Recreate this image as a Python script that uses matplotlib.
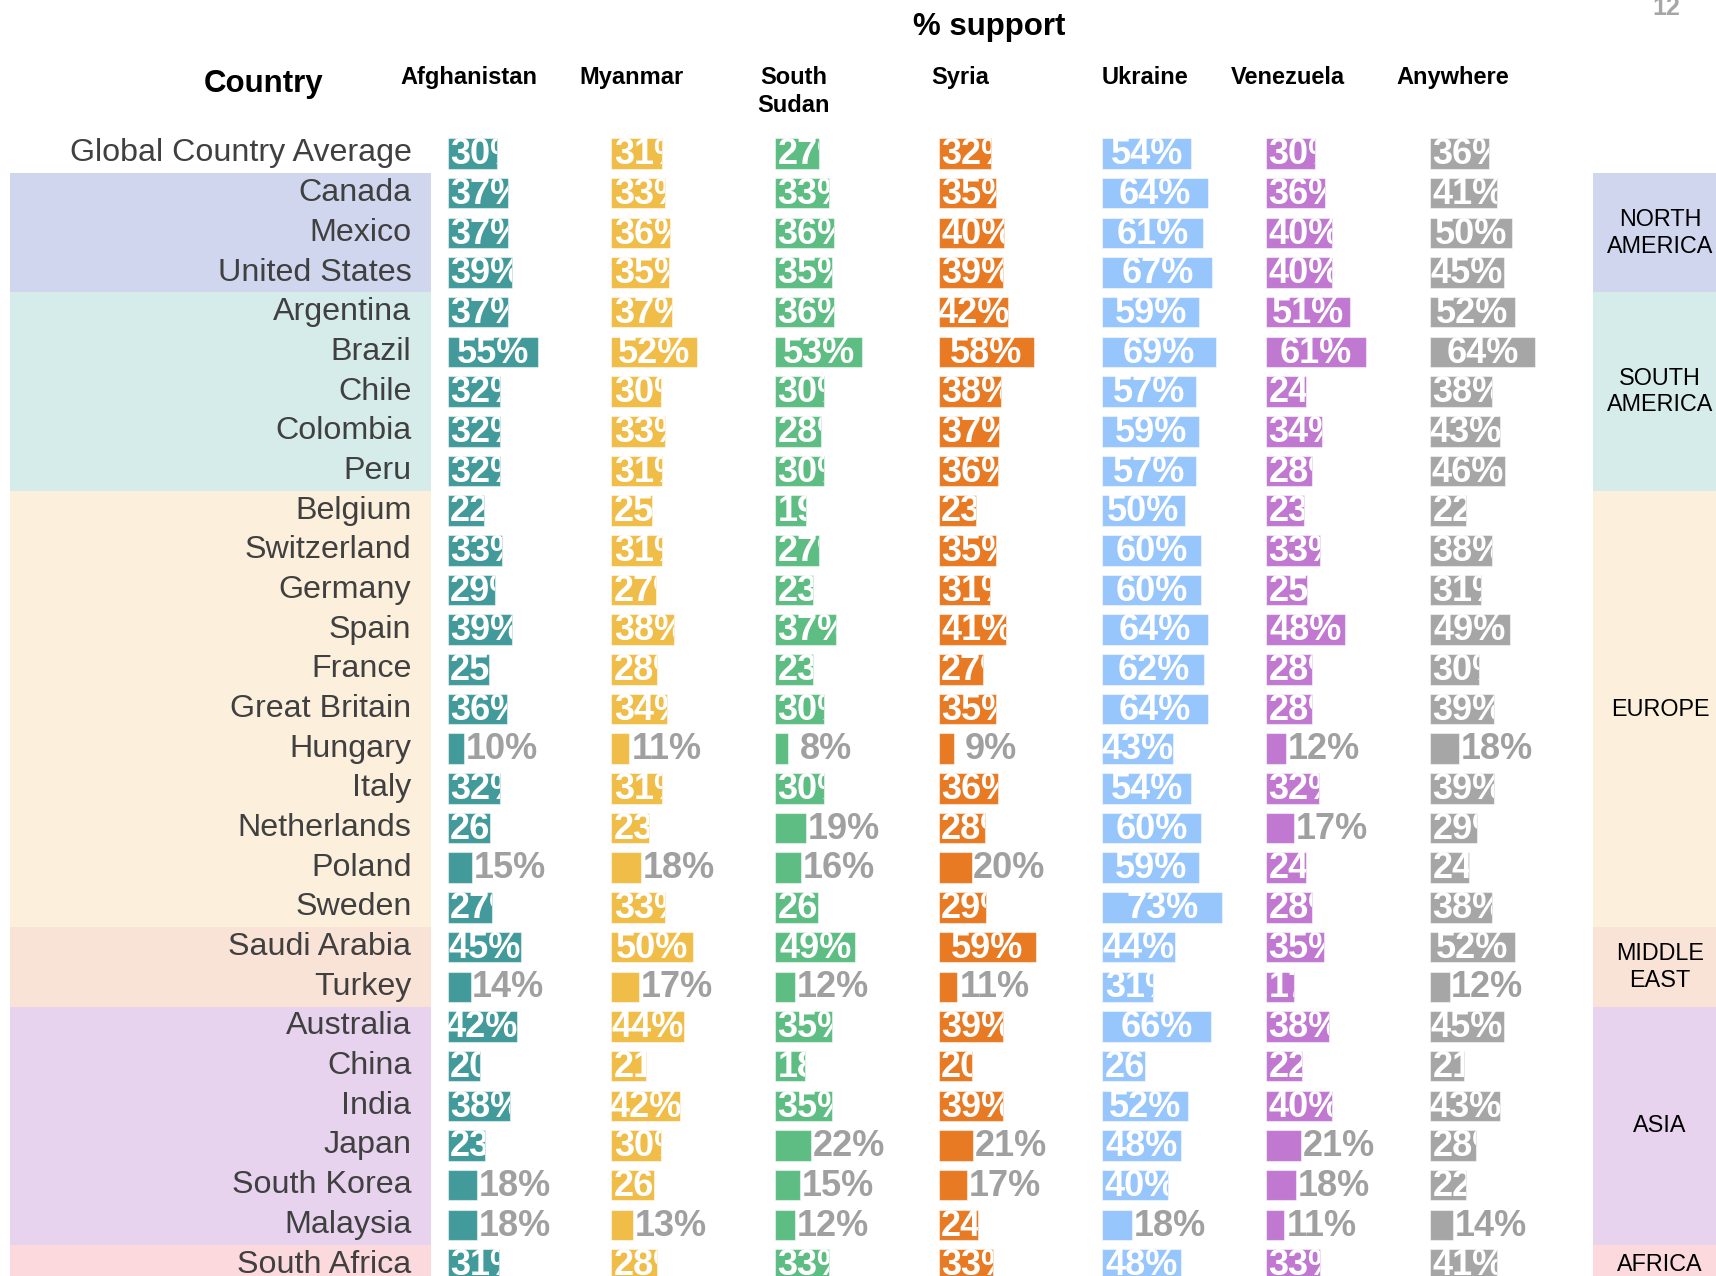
import numpy as np
import matplotlib.pyplot as plt
from matplotlib.transforms import Bbox, TransformedBbox

# --- DATA ---
countries = ["Global Country Average",
             "Canada", "Mexico", "United States",
             "Argentina", "Brazil", "Chile", "Colombia", "Peru",
             "Belgium", "Switzerland", "Germany", "Spain", "France", "Great Britain",
             "Hungary", "Italy", "Netherlands", "Poland", "Sweden",
             "Saudi Arabia", "Turkey",
             "Australia", "China", "India", "Japan", "South Korea", "Malaysia",
             "South Africa"]

columns = ["Afghanistan", "Myanmar", "South\nSudan", "Syria", "Ukraine", "Venezuela", "Anywhere"]

afghanistan = [30, 37, 37, 39, 37, 55, 32, 32, 32, 22, 33, 29, 39, 25, 36, 10, 32, 26, 15, 27, 45, 14, 42, 20, 38, 23, 18, 18, 31]
myanmar     = [31, 33, 36, 35, 37, 52, 30, 33, 31, 25, 31, 27, 38, 28, 34, 11, 31, 23, 18, 33, 50, 17, 44, 21, 42, 30, 26, 13, 28]
south_sudan = [27, 33, 36, 35, 36, 53, 30, 28, 30, 19, 27, 23, 37, 23, 30, 8, 30, 19, 16, 26, 49, 12, 35, 18, 35, 22, 15, 12, 33]
syria       = [32, 35, 40, 39, 42, 58, 38, 37, 36, 23, 35, 31, 41, 27, 35, 9, 36, 28, 20, 29, 59, 11, 39, 20, 39, 21, 17, 24, 33]
ukraine     = [54, 64, 61, 67, 59, 69, 57, 59, 57, 50, 60, 60, 64, 62, 64, 43, 54, 60, 59, 73, 44, 31, 66, 26, 52, 48, 40, 18, 48]
venezuela   = [30, 36, 40, 40, 51, 61, 24, 34, 28, 23, 33, 25, 48, 28, 28, 12, 32, 17, 24, 28, 35, 17, 38, 22, 40, 21, 18, 11, 33]
anywhere    = [36, 41, 50, 45, 52, 64, 38, 43, 46, 22, 38, 31, 49, 30, 39, 18, 39, 29, 24, 38, 52, 12, 45, 21, 43, 28, 22, 14, 41]
series = [afghanistan, myanmar, south_sudan, syria, ukraine, venezuela, anywhere]

# labels that sit outside the bar in grey: (country, column index)
outside = [("Hungary", 0), ("Hungary", 1), ("Hungary", 2), ("Hungary", 3), ("Hungary", 5), ("Hungary", 6),
           ("Netherlands", 2), ("Netherlands", 5),
           ("Poland", 0), ("Poland", 1), ("Poland", 2), ("Poland", 3),
           ("Turkey", 0), ("Turkey", 1), ("Turkey", 2), ("Turkey", 3), ("Turkey", 6),
           ("Japan", 2), ("Japan", 3), ("Japan", 5),
           ("South Korea", 0), ("South Korea", 2), ("South Korea", 3), ("South Korea", 5),
           ("Malaysia", 0), ("Malaysia", 1), ("Malaysia", 2), ("Malaysia", 4), ("Malaysia", 5), ("Malaysia", 6)]

regions = ["NORTH\nAMERICA", "SOUTH\nAMERICA", "EUROPE", "MIDDLE\nEAST", "ASIA", "AFRICA"]
region_sizes = [3, 5, 11, 2, 6, 1]

# --- STYLE ---
bar_colors = ["#429A9A", "#F0BD48", "#5DBD82", "#E77A23", "#97C6FD", "#C078D1", "#A6A6A6"]
band_colors = ["#CFD6EE", "#D5ECEB", "#FCF0DC", "#F9E3D6", "#E7D3EE", "#FBD9DC"]
NARROW = ["Liberation Sans Narrow", "Liberation Sans", "DejaVu Sans"]
SANS = ["Liberation Sans", "DejaVu Sans"]
col_pitch = 99.7
bar_h = 0.77
px = 1.642  # pixels per percent unit
top_px = 153.5  # pixel row of first bar centre
pitch_px = 39.68

fig = plt.figure(figsize=(17.16, 12.76), dpi=100)
ax = fig.add_axes([0, 0, 1, 1])
ax.set_xlim(-447.6 / px, (1716 - 447.6) / px)
ax.set_ylim((1276 - top_px) / pitch_px, -top_px / pitch_px)
ax.axis("off")

# region bands
start = 1
for reg, n, bc in zip(regions, region_sizes, band_colors):
    y0 = start - 0.5
    ax.add_patch(plt.Rectangle((-266.6, y0), 256.5, n, color=bc, lw=0, zorder=0))
    ax.add_patch(plt.Rectangle((697.6, y0), 200, n, color=bc, lw=0, zorder=0))
    ax.text(738.4, y0 + n / 2, reg, ha="center", va="center", fontsize=16.8,
            family=SANS, linespacing=1.2, color="black")
    start += n

# row labels
for i, c in enumerate(countries):
    ax.text(-22, i, c, ha="right", va="center", fontsize=23.2, family=SANS, color="#404040")

# headers
hdr_off = [13, 12, 11.5, 13, 26, 13, 14]
for j, name in enumerate(columns):
    ax.text(j * col_pitch + hdr_off[j], -2.2, name, ha="center", va="top", fontsize=17,
            fontweight="bold", family=SANS, linespacing=1.25)
ax.text(-112, -1.76, "Country", ha="center", va="center", fontsize=22.5,
        fontweight="bold", family=SANS)
ax.text(329.7, -3.2, "% support", ha="center", va="center", fontsize=22.5,
        fontweight="bold", family=SANS)
fig.text(1666 / 1716, 1 - 8 / 1276, "12", ha="center", va="center", fontsize=18,
         fontweight="bold", family=SANS, color="#A6A6A6")

# bars and labels
out_set = set(outside)
rows = np.arange(len(countries))
for j, vals in enumerate(series):
    x0 = j * col_pitch
    ax.barh(rows, vals, left=x0, height=bar_h, color=bar_colors[j], lw=0.8,
            edgecolor="#FFFFFF80", zorder=2)
    for i, v in enumerate(vals):
        lab = f"{v}%"
        if (countries[i], j) in out_set:
            ax.text(x0 + v + 23, i + 0.03, lab, ha="center", va="center", fontsize=26,
                    fontweight="bold", family=NARROW, color="#A0A0A0", zorder=3)
            continue
        if v >= 42:
            t = ax.text(x0 + v / 2, i + 0.03, lab, ha="center", va="center", fontsize=26,
                        fontweight="bold", family=NARROW, color="white", zorder=3)
        else:
            t = ax.text(x0 + 1.5, i + 0.03, lab, ha="left", va="center", fontsize=26,
                        fontweight="bold", family=NARROW, color="white", zorder=3)
        bb = Bbox.from_extents(x0, i - bar_h / 2, x0 + v, i + bar_h / 2)
        t.set_clip_box(TransformedBbox(bb, ax.transData))
        t.set_clip_on(True)

fig.savefig("out.png", dpi=100)
